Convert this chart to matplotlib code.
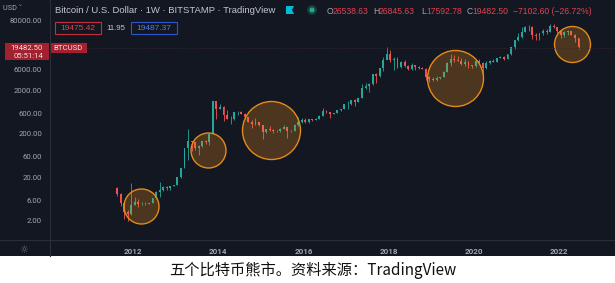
import matplotlib
matplotlib.use("Agg")
import matplotlib.pyplot as plt
from matplotlib.patches import Rectangle, Polygon, Circle

# ---------------- data (monthly) ----------------
months = [
    "2011-08", "2011-09", "2011-10", "2011-11", "2011-12",
    "2012-01", "2012-02", "2012-03", "2012-04", "2012-05", "2012-06",
    "2012-07", "2012-08", "2012-09", "2012-10", "2012-11", "2012-12",
    "2013-01", "2013-02", "2013-03", "2013-04", "2013-05", "2013-06",
    "2013-07", "2013-08", "2013-09", "2013-10", "2013-11", "2013-12",
    "2014-01", "2014-02", "2014-03", "2014-04", "2014-05", "2014-06",
    "2014-07", "2014-08", "2014-09", "2014-10", "2014-11", "2014-12",
    "2015-01", "2015-02", "2015-03", "2015-04", "2015-05", "2015-06",
    "2015-07", "2015-08", "2015-09", "2015-10", "2015-11", "2015-12",
    "2016-01", "2016-02", "2016-03", "2016-04", "2016-05", "2016-06",
    "2016-07", "2016-08", "2016-09", "2016-10", "2016-11", "2016-12",
    "2017-01", "2017-02", "2017-03", "2017-04", "2017-05", "2017-06",
    "2017-07", "2017-08", "2017-09", "2017-10", "2017-11", "2017-12",
    "2018-01", "2018-02", "2018-03", "2018-04", "2018-05", "2018-06",
    "2018-07", "2018-08", "2018-09", "2018-10", "2018-11", "2018-12",
    "2019-01", "2019-02", "2019-03", "2019-04", "2019-05", "2019-06",
    "2019-07", "2019-08", "2019-09", "2019-10", "2019-11", "2019-12",
    "2020-01", "2020-02", "2020-03", "2020-04", "2020-05", "2020-06",
    "2020-07", "2020-08", "2020-09", "2020-10", "2020-11", "2020-12",
    "2021-01", "2021-02", "2021-03", "2021-04", "2021-05", "2021-06",
    "2021-07", "2021-08", "2021-09", "2021-10", "2021-11", "2021-12",
    "2022-01", "2022-02", "2022-03", "2022-04", "2022-05", "2022-06",
]
first_open = 11.5
closes = [
    8.2, 5.1, 3.2, 2.9, 4.7,
    5.5, 4.9, 4.9, 5.0, 5.2, 6.7, 9.3, 10.1, 12.4, 11.2, 12.6, 13.5,
    20.4, 33.4, 93, 139, 129, 97, 106, 135, 133, 204, 1130, 732,
    830, 550, 445, 447, 628, 640, 585, 480, 386, 338, 378, 320,
    217, 254, 244, 236, 230, 263, 284, 230, 236, 314, 377, 430,
    368, 437, 416, 448, 531, 673, 624, 575, 609, 698, 742, 963,
    970, 1190, 1080, 1350, 2300, 2480, 2875, 4700, 4340, 6450, 9950, 13860,
    10220, 10320, 6930, 9240, 7500, 6400, 7730, 7030, 6630, 6370, 4040, 3740,
    3460, 3850, 4100, 5350, 8560, 10820, 10080, 9630, 8290, 9200, 7560, 7190,
    9350, 8540, 6420, 8630, 9450, 9140, 11350, 11660, 10780, 13800, 19700, 28990,
    33110, 45240, 58920, 57750, 37330, 35040, 41460, 47100, 43790, 61320, 57000, 46210,
    38480, 43190, 45540, 37710, 31790, 19482.5,
]
highs = [
    12.0, 8.9, 5.2, 3.6, 15.0,
    7.2, 6.3, 5.5, 5.4, 5.3, 6.8, 9.6, 16.0, 12.5, 12.9, 12.8, 13.7,
    20.7, 33.5, 95, 260, 140, 130, 111, 139, 147, 215, 1163, 1165,
    1000, 860, 700, 530, 630, 680, 660, 600, 500, 415, 460, 385,
    325, 265, 300, 260, 245, 268, 318, 285, 245, 333, 500, 470,
    465, 450, 440, 467, 540, 780, 705, 625, 620, 710, 755, 975,
    1150, 1200, 1300, 1360, 2800, 3000, 2950, 4750, 5000, 6450, 11500, 19666,
    17200, 11800, 11700, 9750, 9990, 7760, 8500, 7760, 7400, 7000, 6550, 4300,
    4100, 4200, 4130, 5600, 9100, 13880, 13200, 12300, 10900, 10500, 9500, 7750,
    9600, 10500, 9200, 9450, 10060, 10400, 11450, 12470, 12100, 14100, 19800, 29300,
    41950, 58350, 61800, 64850, 59500, 41300, 42300, 50500, 52900, 67000, 69000, 59100,
    47900, 45800, 48200, 47400, 39900, 31900,
]
lows = [
    7.5, 4.5, 2.2, 2.0, 2.8,
    4.6, 4.2, 4.7, 4.7, 4.9, 5.2, 6.5, 7.0, 9.8, 10.3, 10.5, 12.5,
    13.2, 19.6, 33, 50, 80, 88, 65, 100, 120, 110, 200, 450,
    740, 400, 440, 340, 420, 550, 570, 450, 370, 275, 320, 310,
    152, 210, 240, 215, 225, 217, 255, 162, 225, 235, 300, 350,
    350, 365, 390, 413, 440, 530, 600, 470, 590, 605, 680, 740,
    750, 930, 890, 1060, 1350, 2200, 1830, 2650, 2980, 4100, 5500, 10700,
    9000, 6000, 6600, 6430, 7050, 5780, 6070, 5880, 6130, 6180, 3500, 3150,
    3350, 3380, 3760, 4070, 5340, 7450, 9050, 9400, 7700, 7300, 6500, 6430,
    6850, 8450, 3850, 6150, 8100, 8900, 8900, 11100, 9900, 10400, 13200, 17600,
    28100, 32300, 45000, 47000, 30000, 28800, 29300, 37300, 39600, 43300, 53300, 42000,
    32900, 34300, 37200, 37600, 25400, 17592.78,
]

# bear-market circles: centre (year, price)
circle_years = [2012.19, 2013.75, 2015.24, 2019.56, 2022.31]
circle_prices = [4.54, 88, 247, 3776, 23440]
circle_radius_px = [17.5, 17.5, 29, 28, 18]

y_ticks = [2, 6, 20, 60, 200, 600, 2000, 6000, 80000]
x_ticks = [2012, 2014, 2016, 2018, 2020, 2022]

header_title = "Bitcoin / U.S. Dollar \u00b7 1W \u00b7 BITSTAMP \u00b7 TradingView"
ohlc_labels = ["O", "H", "L", "C"]
ohlc_values = ["26538.63", "26845.63", "17592.78", "19482.50"]
change_text = "\u22127102.60 (\u221226.72%)"
caption = "五个比特币熊市。资料来源：TradingView"

# ---------------- styling ----------------
W, H = 615, 283
BG = "#131722"
GREEN = "#26a69a"
RED = "#ef5350"
TXT = "#a3a6af"
BOXRED = "#a3202e"
FONT = ["Roboto", "DejaVu Sans"]
LFONT = ["Liberation Sans", "DejaVu Sans"]

fig = plt.figure(figsize=(W / 100, H / 100), dpi=100)
fig.patch.set_facecolor("white")

# dark background panel
bgax = fig.add_axes([0, 0, 1, 1], zorder=-5)
bgax.set_xlim(0, W)
bgax.set_ylim(H, 0)
bgax.axis("off")
bgax.add_patch(Rectangle((0, 0), W, 256, facecolor=BG, edgecolor="none"))

# main chart axes
left_px, bottom_px = 49, 239
ax = fig.add_axes([left_px / W, (H - bottom_px) / H, (W - left_px) / W, bottom_px / H], zorder=1)
ax.set_facecolor("none")
ax.set_yscale("log")
ax.set_xlim(2010.028, 2023.315)
ax.set_ylim(0.771, 240600)
for s in ax.spines.values():
    s.set_visible(False)

xs = [int(m[:4]) + (int(m[5:]) - 0.5) / 12 for m in months]
opens = [first_open] + closes[:-1]
for x, o, h, l, c in zip(xs, opens, highs, lows, closes):
    col = GREEN if c >= o else RED
    ax.vlines(x, l, h, color=col, linewidth=0.6, zorder=2)
    lo, hi = min(o, c), max(o, c)
    if hi / lo < 1.01:
        hi = lo * 1.01
    ax.bar(x, hi - lo, bottom=lo, width=0.045, color=col, edgecolor="none", zorder=3)

for cx, cy, r in zip(circle_years, circle_prices, circle_radius_px):
    d_pt = 2 * r * 72 / 100
    ax.scatter([cx], [cy], s=d_pt ** 2, facecolor=(0.969, 0.576, 0.102, 0.25),
               edgecolor="#e38b18", linewidth=1.0, zorder=5)

ax.set_yticks(y_ticks)
ax.set_yticklabels([f"{v:.2f}" for v in y_ticks])
ax.yaxis.set_minor_locator(matplotlib.ticker.NullLocator())
ax.set_xticks(x_ticks)
ax.set_xticklabels([str(v) for v in x_ticks])
ax.tick_params(axis="y", length=0, pad=5, labelsize=5.6, labelcolor=TXT)
ax.tick_params(axis="x", length=0, pad=6.5, labelsize=5.8, labelcolor=TXT)
for lab in ax.get_yticklabels() + ax.get_xticklabels():
    lab.set_fontfamily(FONT)
for lab in ax.get_xticklabels():
    lab.set_fontweight("bold")

# overlay in pixel coords
ov = fig.add_axes([0, 0, 1, 1], zorder=10)
ov.set_xlim(0, W)
ov.set_ylim(H, 0)
ov.axis("off")
ov.set_facecolor("none")

# separators
ov.plot([0, W], [239.5, 239.5], color="#2a2e39", linewidth=0.8)
ov.plot([49.5, 49.5], [0, 256], color="#2a2e39", linewidth=0.8)

# last price dotted line
ov.plot([87, W], [47.5, 47.5], color="#3a2a33", linewidth=0.6, linestyle=(0, (1, 1.5)))

# header
ov.text(3, 8.5, "USD \u02c5", fontsize=5.2, color=TXT, va="center", ha="left", family=FONT)
ov.text(55, 10.5, header_title, fontsize=6.8, color="#c3c6ce", va="center", ha="left", family=LFONT)
ov.add_patch(Polygon([[286, 6], [294, 6], [292, 10], [294, 14], [286, 14]], closed=True,
                     facecolor="#00bcd4", edgecolor="none"))
ov.add_patch(Circle((312, 10), 5, facecolor="#173d37", edgecolor="none"))
ov.add_patch(Circle((312, 10), 2.6, facecolor="#1fa98d", edgecolor="none"))

ohlc_x = [327, 373, 421, 467]
for xx, lab, val in zip(ohlc_x, ohlc_labels, ohlc_values):
    ov.text(xx, 11, lab, fontsize=6.2, color=TXT, va="center", ha="left", family=LFONT)
    ov.text(xx + 5.2, 11, val, fontsize=6.2, color="#e0434f", va="center", ha="left", family=LFONT)
ov.text(513, 11, change_text, fontsize=6.2, color="#e0434f", va="center", ha="left", family=LFONT)

# second row boxes
ov.add_patch(Rectangle((54.5, 22), 46, 11.5, facecolor="none", edgecolor="#c2303d", linewidth=0.8))
ov.text(77.5, 28, "19475.42", fontsize=6.0, color="#e0434f", va="center", ha="center", family=LFONT)
ov.text(116, 28, "11.95", fontsize=5.6, color="#c3c6ce", va="center", ha="center", family=LFONT)
ov.add_patch(Rectangle((131, 22), 46, 11.5, facecolor="none", edgecolor="#2f56c8", linewidth=0.8))
ov.text(154, 28, "19487.37", fontsize=6.0, color="#4f7cf0", va="center", ha="center", family=LFONT)

# price label on axis
ov.add_patch(Rectangle((5, 42.5), 44, 17.5, facecolor=BOXRED, edgecolor="none"))
ov.text(43, 47.5, "19482.50", fontsize=5.6, color="#f0e0e2", va="center", ha="right", family=FONT)
ov.text(43, 56, "05:51:14", fontsize=5.6, color="#f0e0e2", va="center", ha="right", family=FONT)
ov.add_patch(Rectangle((50, 42.5), 37, 10, facecolor=BOXRED, edgecolor="none"))
ov.text(68.5, 47.7, "BTCUSD", fontsize=5.6, color="#f0e0e2", va="center", ha="center", family=FONT)

# gear icon
ov.text(23.5, 249.5, "\u263c", fontsize=7, color="#6d7078", va="center", ha="center",
        family=["DejaVu Sans"])

# caption
ov.text(313, 270, caption, fontsize=11, color="#111111", va="center", ha="center",
        style="italic", family=["Noto Sans CJK SC", "DejaVu Sans"])

fig.savefig("out.png", dpi=100, facecolor=fig.get_facecolor())
